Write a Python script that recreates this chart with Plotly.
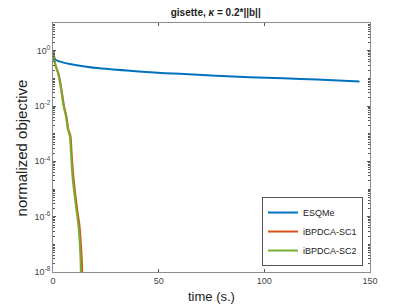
import plotly.graph_objects as go

# time (s.) and normalized objective
t_esqme = [0, 0.5, 1.4, 3, 5, 8, 15, 22, 35, 46, 60, 77, 93, 109, 125, 145]
f_esqme = [1.0, 0.6, 0.46, 0.41, 0.37, 0.33, 0.27, 0.23, 0.19, 0.165, 0.145, 0.125, 0.11, 0.1, 0.09, 0.077]

t_sc1 = [0, 1.2, 2.7, 4.0, 5.2, 6.4, 7.2, 8.3, 8.8, 9.6, 10.6, 11.6, 12.5, 13.2, 13.7, 14.0]
f_sc1 = [1.0, 0.3, 0.14, 0.04, 0.01, 0.004, 0.0015, 0.0008, 0.0002, 3e-5, 6e-6, 1.5e-6, 5e-7, 1e-7, 2e-8, 1e-9]

t_sc2 = [0, 1.1, 2.5, 3.8, 5.0, 6.2, 7.0, 8.0, 8.5, 9.2, 10.2, 11.2, 12.0, 12.7, 13.1, 13.4]
f_sc2 = [1.0, 0.3, 0.14, 0.04, 0.01, 0.004, 0.0015, 0.0008, 0.0002, 3e-5, 6e-6, 1.5e-6, 5e-7, 1e-7, 2e-8, 1e-9]

series = [
    ("ESQMe", t_esqme, f_esqme, "#0072BD"),
    ("iBPDCA-SC1", t_sc1, f_sc1, "#D95319"),
    ("iBPDCA-SC2", t_sc2, f_sc2, "#77AC30"),
]

y_major = [1e-8, 1e-6, 1e-4, 1e-2, 1e0]
y_labels = ["10<sup>-8</sup>", "10<sup>-6</sup>", "10<sup>-4</sup>", "10<sup>-2</sup>", "10<sup>0</sup>"]
y_minor = [m * 10.0 ** e for e in range(-8, 1) for m in range(1, 10)] + [10.0]

fig = go.Figure()
for name, t, f, c in series:
    fig.add_trace(go.Scatter(x=t, y=f, name=name, mode="lines", line_shape="spline",
                             line=dict(color=c, width=2, smoothing=0.6)))

axis_style = dict(showline=True, linecolor="#8c8c8c", linewidth=1, mirror="ticks",
                  ticks="inside", ticklen=3, tickcolor="#555555",
                  showgrid=False, zeroline=False, automargin=False,
                  tickfont=dict(size=9, color="#444444"))

fig.update_xaxes(range=[0, 150], tickvals=[0, 50, 100, 150], **axis_style)
fig.update_yaxes(type="log", range=[-8, 1], tickvals=y_major, ticktext=y_labels,
                 minor=dict(tickvals=y_minor, ticks="inside", ticklen=2, tickcolor="#555555"),
                 **axis_style)

fig.add_annotation(text="normalized objective", xref="paper", yref="paper",
                   x=-0.098, y=0.5, xanchor="center", yanchor="middle", textangle=-90,
                   showarrow=False, font=dict(size=15, color="#222222"))
fig.add_annotation(text="time (s.)", xref="paper", yref="paper",
                   x=0.5, y=-0.1, xanchor="center", yanchor="middle",
                   showarrow=False, font=dict(size=13, color="#222222"))

# the page body has an 8px margin, so the figure is shrunk and shifted by it
fig.update_layout(
    width=401, height=298,
    margin=dict(l=45, r=39, t=15, b=34),
    paper_bgcolor="white", plot_bgcolor="white",
    font=dict(family="Liberation Sans, Arial, sans-serif"),
    title=dict(text="<b>gisette, <i>κ</i> = 0.2*||b||</b>", x=0.518, xanchor="center",
               y=0.985, yanchor="middle", font=dict(size=10, color="#222222")),
    legend=dict(x=0.978, y=0.024, xanchor="right", yanchor="bottom",
                bgcolor="white", bordercolor="#555555", borderwidth=1,
                font=dict(size=9, color="#222222"), tracegroupgap=0,
                itemwidth=30),
    showlegend=True,
)

fig.write_html("out.html")
